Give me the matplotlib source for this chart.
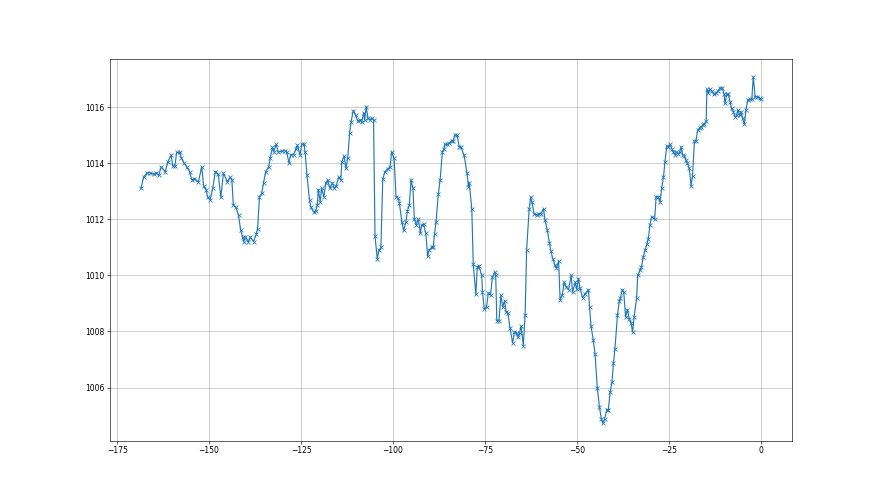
import matplotlib
matplotlib.use('Agg')
import matplotlib.pyplot as plt

# hours relative to now
hours = [
    -168.5, -167.8, -166.9, -166.0, -165.1, -164.5, -163.7, -163.0, -161.9, -161.2,
    -160.3, -159.9, -159.3, -158.8, -157.9, -157.6, -156.8, -156.1, -155.3, -154.7,
    -154.0, -152.9, -152.0, -151.5, -150.8, -150.4, -149.7, -149.0, -148.3, -147.5,
    -146.8, -146.1, -145.0, -144.3, -143.8, -143.4, -142.7, -142.0, -141.4, -140.9,
    -140.6, -140.1, -139.3, -138.8, -137.9, -137.2, -136.8, -136.3, -135.7, -135.2,
    -134.6, -133.8, -133.4, -132.8, -132.4, -131.8, -131.2, -130.3, -129.5, -128.9,
    -128.3, -127.8, -127.0, -126.4, -126.0, -125.3, -124.8, -124.2, -123.9, -123.4,
    -122.7, -122.3, -121.6, -121.0, -120.6, -120.3, -119.8, -119.4, -118.8, -118.3,
    -117.8, -117.1, -116.5, -116.0, -115.4, -114.8, -114.2, -113.9, -113.3, -112.8,
    -112.3, -111.8, -111.4, -110.8, -110.1, -109.6, -109.0, -108.5, -108.0, -107.7,
    -107.3, -106.8, -106.3, -105.8, -105.3, -104.9, -104.3, -103.8, -103.3, -102.8,
    -102.2, -101.5, -100.8, -100.4, -99.7, -99.2, -98.6, -98.3, -97.6, -97.1,
    -96.5, -96.1, -95.6, -95.1, -94.6, -94.2, -93.7, -93.1, -92.6, -92.2,
    -91.7, -91.1, -90.6, -90.2, -89.5, -89.1, -88.7, -88.3, -87.7, -87.2,
    -86.6, -86.2, -85.9, -85.3, -84.7, -84.1, -83.7, -83.2, -82.6, -82.0,
    -81.6, -80.7, -79.9, -79.5, -79.3, -78.6, -78.2, -77.5, -77.1, -76.7,
    -75.9, -75.7, -75.2, -74.6, -74.1, -73.5, -73.0, -72.4, -72.1, -71.8,
    -71.2, -70.7, -70.2, -69.7, -69.3, -68.8, -68.2, -67.5, -67.0, -66.4,
    -66.1, -65.6, -65.2, -64.6, -64.1, -63.7, -63.0, -62.6, -62.2, -61.7,
    -61.0, -60.4, -59.8, -59.1, -58.7, -58.1, -57.5, -57.1, -56.6, -56.0,
    -55.6, -55.0, -54.6, -54.0, -53.5, -53.0, -52.3, -51.6, -51.2, -50.5,
    -50.1, -49.6, -49.2, -48.5, -47.9, -46.9, -46.6, -46.2, -45.6, -45.1,
    -44.5, -43.9, -43.4, -43.0, -42.5, -41.9, -41.5, -41.0, -40.5, -40.1,
    -39.7, -39.0, -38.5, -38.2, -37.7, -37.3, -36.8, -36.3, -35.8, -35.3,
    -34.9, -34.5, -33.8, -33.5, -32.9, -32.5, -32.0, -31.5, -31.0, -30.6,
    -30.2, -29.7, -28.9, -28.5, -27.9, -27.4, -27.0, -26.5, -26.1, -25.6,
    -25.2, -24.7, -24.2, -23.8, -23.4, -23.0, -22.5, -22.1, -21.7, -21.3,
    -20.8, -20.4, -20.0, -19.5, -19.0, -18.6, -18.1, -17.7, -17.2, -16.7,
    -16.3, -15.8, -15.4, -14.9, -14.7, -14.3, -13.9, -13.4, -12.8, -12.3,
    -11.8, -11.1, -10.5, -10.0, -9.8, -9.3, -8.9, -8.4, -8.0, -7.5,
    -7.1, -6.6, -6.3, -5.8, -5.4, -5.0, -4.5, -4.1, -3.6, -3.0,
    -2.5, -2.1, -1.6, -1.0, -0.4, 0.0,
]

# pressure (hPa)
pressure = [
    1013.10, 1013.50, 1013.65, 1013.66, 1013.60, 1013.66, 1013.57, 1013.87, 1013.70, 1014.05,
    1014.29, 1013.90, 1013.90, 1014.38, 1014.38, 1014.20, 1014.00, 1013.87, 1013.70, 1013.40,
    1013.45, 1013.33, 1013.87, 1013.20, 1013.04, 1012.80, 1012.70, 1013.10, 1013.70, 1013.60,
    1012.78, 1013.64, 1013.33, 1013.50, 1013.40, 1012.50, 1012.42, 1012.14, 1011.60, 1011.37,
    1011.20, 1011.37, 1011.20, 1011.37, 1011.20, 1011.46, 1011.67, 1012.80, 1012.92, 1013.30,
    1013.70, 1013.87, 1014.17, 1014.56, 1014.40, 1014.67, 1014.40, 1014.42, 1014.45, 1014.40,
    1014.01, 1014.30, 1014.30, 1014.50, 1014.64, 1014.30, 1014.68, 1014.68, 1014.40, 1013.57,
    1012.68, 1012.42, 1012.26, 1012.30, 1012.50, 1013.06, 1012.62, 1013.10, 1012.80, 1013.28,
    1013.40, 1013.10, 1013.30, 1013.10, 1013.20, 1013.51, 1013.40, 1014.05, 1014.25, 1013.81,
    1014.20, 1015.08, 1015.48, 1015.87, 1015.70, 1015.50, 1015.55, 1015.45, 1015.80, 1015.55,
    1016.01, 1015.60, 1015.55, 1015.60, 1015.55, 1011.39, 1010.60, 1010.90, 1011.00, 1013.42,
    1013.70, 1013.80, 1013.85, 1014.40, 1014.17, 1012.80, 1012.75, 1012.59, 1011.91, 1011.60,
    1011.91, 1012.30, 1012.50, 1013.40, 1013.10, 1012.00, 1011.80, 1012.00, 1011.51, 1011.80,
    1011.82, 1011.50, 1010.68, 1010.90, 1011.00, 1011.00, 1011.49, 1011.91, 1012.90, 1013.40,
    1014.40, 1014.50, 1014.67, 1014.67, 1014.70, 1014.80, 1014.78, 1015.00, 1015.00, 1014.58,
    1014.58, 1014.29, 1013.65, 1013.16, 1013.30, 1012.38, 1010.39, 1009.32, 1010.30, 1010.35,
    1010.00, 1009.41, 1008.80, 1008.88, 1009.37, 1009.30, 1009.94, 1010.12, 1010.00, 1008.39,
    1008.39, 1009.29, 1008.87, 1009.10, 1008.70, 1008.66, 1008.12, 1007.59, 1007.98, 1007.95,
    1007.80, 1007.95, 1008.20, 1007.50, 1008.60, 1010.90, 1012.38, 1012.78, 1012.60, 1012.20,
    1012.15, 1012.20, 1012.20, 1012.38, 1011.96, 1011.63, 1011.15, 1010.86, 1010.60, 1010.36,
    1010.27, 1010.50, 1009.13, 1009.30, 1009.76, 1009.60, 1009.49, 1010.00, 1009.41, 1009.76,
    1009.50, 1009.88, 1009.55, 1009.20, 1009.33, 1009.49, 1008.87, 1008.20, 1007.70, 1007.20,
    1006.00, 1005.30, 1004.89, 1004.73, 1004.89, 1005.20, 1005.20, 1005.84, 1006.20, 1006.87,
    1007.38, 1008.60, 1009.08, 1009.20, 1009.49, 1009.40, 1008.51, 1008.78, 1008.45, 1008.30,
    1007.98, 1008.50, 1009.20, 1010.00, 1010.18, 1010.30, 1010.65, 1010.90, 1011.13, 1011.31,
    1011.79, 1012.09, 1012.00, 1012.80, 1012.80, 1012.62, 1013.10, 1013.51, 1014.05, 1014.62,
    1014.58, 1014.67, 1014.50, 1014.40, 1014.30, 1014.40, 1014.33, 1014.40, 1014.58, 1014.30,
    1014.25, 1014.10, 1014.00, 1013.81, 1013.19, 1013.55, 1014.79, 1014.79, 1015.18, 1015.25,
    1015.30, 1015.36, 1015.40, 1015.50, 1016.64, 1016.50, 1016.64, 1016.58, 1016.45, 1016.50,
    1016.56, 1016.68, 1016.68, 1016.45, 1016.13, 1016.45, 1016.45, 1016.17, 1015.95, 1015.83,
    1015.65, 1015.70, 1015.90, 1015.70, 1015.83, 1015.60, 1015.38, 1015.89, 1016.25, 1016.27,
    1016.27, 1017.08, 1016.37, 1016.37, 1016.32, 1016.27,
]

# big figure rendered at low dpi, like the downscaled original
fig, ax = plt.subplots(figsize=(16, 9), dpi=55)
ax.plot(hours, pressure, marker='x')
ax.grid(True)

plt.savefig('out.png', dpi=55)
